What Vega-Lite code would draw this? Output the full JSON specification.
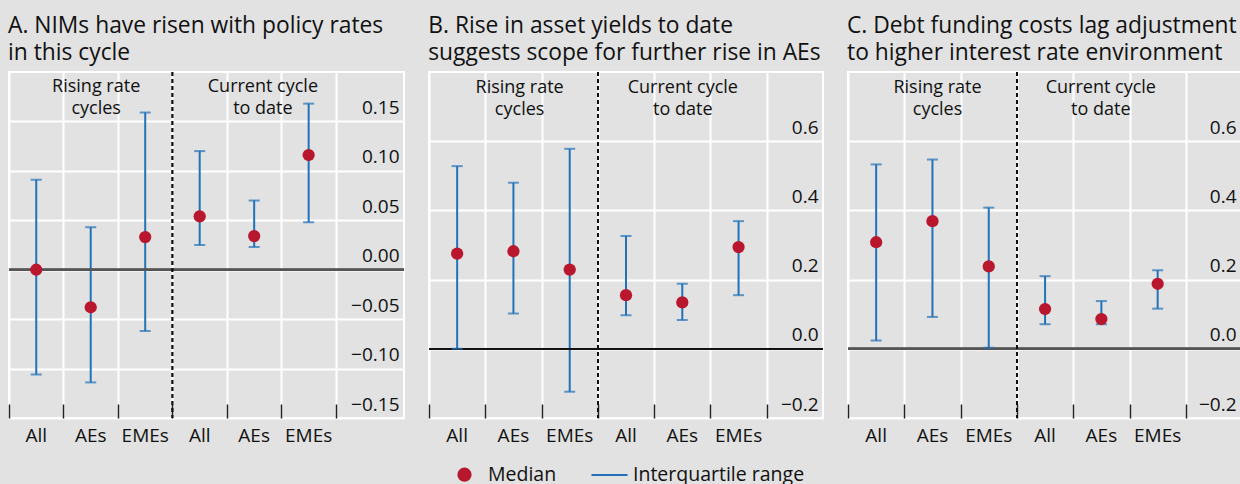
{
  "$schema": "https://vega.github.io/schema/vega-lite/v6.json",
  "background": "#e1e2e1",
  "padding": {"left": 7, "top": 13, "right": 0, "bottom": 0},
  "bounds": "flush",
  "spacing": 25,
  "config": {
    "font": "Open Sans",
    "view": {"stroke": "white", "strokeWidth": 2},
    "title": {"anchor": "start", "fontSize": 22.8, "fontWeight": "normal", "lineHeight": 27, "offset": 7, "color": "#111"},
    "axis": {"labelColor": "#111", "labelFont": "Open Sans"},
    "text": {"color": "#111"},
    "legend": {"layout": {"bottom": {"anchor": "middle"}}}
  },
  "resolve": {"scale": {"color": "shared"}},
  "hconcat": [
    {
      "width": 395,
      "height": 346,
      "title": {"text": ["A. NIMs have risen with policy rates", "in this cycle"]},
      "data": {"values": [
        {"x": 0.5, "g": "All", "med": 0.0, "lo": -0.106, "hi": 0.091},
        {"x": 1.5, "g": "AEs", "med": -0.038, "lo": -0.114, "hi": 0.043},
        {"x": 2.5, "g": "EMEs", "med": 0.033, "lo": -0.062, "hi": 0.159},
        {"x": 3.5, "g": "All", "med": 0.054, "lo": 0.025, "hi": 0.120},
        {"x": 4.5, "g": "AEs", "med": 0.034, "lo": 0.023, "hi": 0.070},
        {"x": 5.5, "g": "EMEs", "med": 0.116, "lo": 0.048, "hi": 0.168}
      ]},
      "layer": [
        {
          "mark": {"type": "rule", "strokeWidth": 2},
          "encoding": {
            "x": {"field": "x", "type": "quantitative", "scale": {"domain": [0, 7.25], "nice": false, "zero": false},
              "axis": {"values": [0, 1, 2, 3, 4, 5, 6], "grid": true, "gridColor": "white", "gridWidth": 2, "labels": false, "domain": false, "ticks": true, "tickSize": -14, "tickColor": "#222", "tickWidth": 1.5, "title": null}},
            "y": {"field": "lo", "type": "quantitative", "scale": {"domain": [-0.15, 0.2], "nice": false, "zero": false},
              "axis": {"orient": "right", "values": [-0.15, -0.1, -0.05, 0, 0.05, 0.1, 0.15], "format": ".2f", "grid": true, "gridColor": "white", "gridWidth": 2, "domain": false, "ticks": false, "tickSize": 0, "labelAlign": "right", "labelPadding": -5, "labelBaseline": "alphabetic", "labelOffset": -8, "labelFontSize": 19, "title": null}},
            "y2": {"field": "hi"},
            "color": {"datum": "Interquartile range", "type": "nominal",
              "scale": {"domain": ["Median", "Interquartile range"], "range": ["#b8172e", "#2372b9"]},
              "legend": {"title": null, "orient": "bottom", "direction": "horizontal", "labelFontSize": 19.5, "labelColor": "#111", "labelFont": "Open Sans", "labelLimit": 0, "columnPadding": 30, "offset": 8,
                "encode": {"symbols": {"update": {
                  "shape": {"signal": "datum.value === 'Median' ? 'circle' : 'stroke'"},
                  "size": {"signal": "datum.value === 'Median' ? 150 : 1300"},
                  "stroke": {"scale": "color", "field": "value"},
                  "fill": {"scale": "color", "field": "value"},
                  "strokeWidth": {"value": 2},
                  "opacity": {"value": 1}
                }}}}}
          }
        },
        {
          "mark": {"type": "rule", "color": "#555", "strokeWidth": 2},
          "encoding": {"y": {"datum": 0}}
        },
        {
          "mark": {"type": "rule", "color": "#111", "strokeWidth": 1.3, "strokeDash": [4, 3]},
          "encoding": {"x": {"datum": 3}}
        },
        {
          "mark": {"type": "tick", "orient": "horizontal", "size": 11, "thickness": 2},
          "encoding": {"x": {"field": "x", "type": "quantitative"}, "y": {"field": "lo", "type": "quantitative"}, "color": {"datum": "Interquartile range", "type": "nominal"}}
        },
        {
          "mark": {"type": "tick", "orient": "horizontal", "size": 11, "thickness": 2},
          "encoding": {"x": {"field": "x", "type": "quantitative"}, "y": {"field": "hi", "type": "quantitative"}, "color": {"datum": "Interquartile range", "type": "nominal"}}
        },
        {
          "mark": {"type": "circle", "size": 150, "opacity": 1},
          "encoding": {"x": {"field": "x", "type": "quantitative"}, "y": {"field": "med", "type": "quantitative"}, "color": {"datum": "Median", "type": "nominal"}}
        },
        {
          "mark": {"type": "text", "fontSize": 19, "dy": 18, "baseline": "middle", "align": "center"},
          "encoding": {"x": {"field": "x", "type": "quantitative"}, "y": {"datum": -0.15}, "text": {"field": "g"}}
        },
        {
          "data": {"values": [
            {"x": 1.6, "y": 0.185, "t": "Rising rate\ncycles"},
            {"x": 4.66, "y": 0.185, "t": "Current cycle\nto date"}
          ]},
          "mark": {"type": "text", "fontSize": 18, "lineBreak": "\n", "lineHeight": 22, "baseline": "middle", "align": "center"},
          "encoding": {"x": {"field": "x", "type": "quantitative"}, "y": {"field": "y", "type": "quantitative"}, "text": {"field": "t"}}
        }
      ]
    },
    {
      "width": 394,
      "height": 346,
      "title": {"text": ["B. Rise in asset yields to date", "suggests scope for further rise in AEs"]},
      "data": {"values": [
        {"x": 0.5, "g": "All", "med": 0.275, "lo": 0.0, "hi": 0.528},
        {"x": 1.5, "g": "AEs", "med": 0.282, "lo": 0.102, "hi": 0.480},
        {"x": 2.5, "g": "EMEs", "med": 0.229, "lo": -0.124, "hi": 0.578},
        {"x": 3.5, "g": "All", "med": 0.155, "lo": 0.097, "hi": 0.326},
        {"x": 4.5, "g": "AEs", "med": 0.134, "lo": 0.083, "hi": 0.188},
        {"x": 5.5, "g": "EMEs", "med": 0.294, "lo": 0.155, "hi": 0.369}
      ]},
      "layer": [
        {
          "mark": {"type": "rule", "strokeWidth": 2},
          "encoding": {
            "x": {"field": "x", "type": "quantitative", "scale": {"domain": [0, 7.0], "nice": false, "zero": false},
              "axis": {"values": [0, 1, 2, 3, 4, 5, 6], "grid": true, "gridColor": "white", "gridWidth": 2, "labels": false, "domain": false, "ticks": true, "tickSize": -14, "tickColor": "#222", "tickWidth": 1.5, "title": null}},
            "y": {"field": "lo", "type": "quantitative", "scale": {"domain": [-0.2, 0.8], "nice": false, "zero": false},
              "axis": {"orient": "right", "values": [-0.2, 0, 0.2, 0.4, 0.6], "format": ".1f", "grid": true, "gridColor": "white", "gridWidth": 2, "domain": false, "ticks": false, "tickSize": 0, "labelAlign": "right", "labelPadding": -5, "labelBaseline": "alphabetic", "labelOffset": -8, "labelFontSize": 19, "title": null}},
            "y2": {"field": "hi"},
            "color": {"datum": "Interquartile range", "type": "nominal"}
          }
        },
        {
          "mark": {"type": "rule", "color": "#111", "strokeWidth": 1.5},
          "encoding": {"y": {"datum": 0}}
        },
        {
          "mark": {"type": "rule", "color": "#111", "strokeWidth": 1.3, "strokeDash": [4, 3]},
          "encoding": {"x": {"datum": 3}}
        },
        {
          "mark": {"type": "tick", "orient": "horizontal", "size": 11, "thickness": 2},
          "encoding": {"x": {"field": "x", "type": "quantitative"}, "y": {"field": "lo", "type": "quantitative"}, "color": {"datum": "Interquartile range", "type": "nominal"}}
        },
        {
          "mark": {"type": "tick", "orient": "horizontal", "size": 11, "thickness": 2},
          "encoding": {"x": {"field": "x", "type": "quantitative"}, "y": {"field": "hi", "type": "quantitative"}, "color": {"datum": "Interquartile range", "type": "nominal"}}
        },
        {
          "mark": {"type": "circle", "size": 150, "opacity": 1},
          "encoding": {"x": {"field": "x", "type": "quantitative"}, "y": {"field": "med", "type": "quantitative"}, "color": {"datum": "Median", "type": "nominal"}}
        },
        {
          "mark": {"type": "text", "fontSize": 19, "dy": 18, "baseline": "middle", "align": "center"},
          "encoding": {"x": {"field": "x", "type": "quantitative"}, "y": {"datum": -0.2}, "text": {"field": "g"}}
        },
        {
          "data": {"values": [
            {"x": 1.61, "y": 0.753, "t": "Rising rate\ncycles"},
            {"x": 4.51, "y": 0.753, "t": "Current cycle\nto date"}
          ]},
          "mark": {"type": "text", "fontSize": 18, "lineBreak": "\n", "lineHeight": 22, "baseline": "middle", "align": "center"},
          "encoding": {"x": {"field": "x", "type": "quantitative"}, "y": {"field": "y", "type": "quantitative"}, "text": {"field": "t"}}
        }
      ]
    },
    {
      "width": 393,
      "height": 346,
      "title": {"text": ["C. Debt funding costs lag adjustment", "to higher interest rate environment"]},
      "data": {"values": [
        {"x": 0.5, "g": "All", "med": 0.308, "lo": 0.024, "hi": 0.533},
        {"x": 1.5, "g": "AEs", "med": 0.369, "lo": 0.092, "hi": 0.547},
        {"x": 2.5, "g": "EMEs", "med": 0.238, "lo": 0.003, "hi": 0.408},
        {"x": 3.5, "g": "All", "med": 0.115, "lo": 0.071, "hi": 0.210},
        {"x": 4.5, "g": "AEs", "med": 0.086, "lo": 0.071, "hi": 0.138},
        {"x": 5.5, "g": "EMEs", "med": 0.188, "lo": 0.116, "hi": 0.227}
      ]},
      "layer": [
        {
          "mark": {"type": "rule", "strokeWidth": 2},
          "encoding": {
            "x": {"field": "x", "type": "quantitative", "scale": {"domain": [0, 6.98], "nice": false, "zero": false},
              "axis": {"values": [0, 1, 2, 3, 4, 5, 6], "grid": true, "gridColor": "white", "gridWidth": 2, "labels": false, "domain": false, "ticks": true, "tickSize": -14, "tickColor": "#222", "tickWidth": 1.5, "title": null}},
            "y": {"field": "lo", "type": "quantitative", "scale": {"domain": [-0.2, 0.8], "nice": false, "zero": false},
              "axis": {"orient": "right", "values": [-0.2, 0, 0.2, 0.4, 0.6], "format": ".1f", "grid": true, "gridColor": "white", "gridWidth": 2, "domain": false, "ticks": false, "tickSize": 0, "labelAlign": "right", "labelPadding": -5, "labelBaseline": "alphabetic", "labelOffset": -8, "labelFontSize": 19, "title": null}},
            "y2": {"field": "hi"},
            "color": {"datum": "Interquartile range", "type": "nominal"}
          }
        },
        {
          "mark": {"type": "rule", "color": "#555", "strokeWidth": 2},
          "encoding": {"y": {"datum": 0}}
        },
        {
          "mark": {"type": "rule", "color": "#111", "strokeWidth": 1.3, "strokeDash": [4, 3]},
          "encoding": {"x": {"datum": 3}}
        },
        {
          "mark": {"type": "tick", "orient": "horizontal", "size": 11, "thickness": 2},
          "encoding": {"x": {"field": "x", "type": "quantitative"}, "y": {"field": "lo", "type": "quantitative"}, "color": {"datum": "Interquartile range", "type": "nominal"}}
        },
        {
          "mark": {"type": "tick", "orient": "horizontal", "size": 11, "thickness": 2},
          "encoding": {"x": {"field": "x", "type": "quantitative"}, "y": {"field": "hi", "type": "quantitative"}, "color": {"datum": "Interquartile range", "type": "nominal"}}
        },
        {
          "mark": {"type": "circle", "size": 150, "opacity": 1},
          "encoding": {"x": {"field": "x", "type": "quantitative"}, "y": {"field": "med", "type": "quantitative"}, "color": {"datum": "Median", "type": "nominal"}}
        },
        {
          "mark": {"type": "text", "fontSize": 19, "dy": 18, "baseline": "middle", "align": "center"},
          "encoding": {"x": {"field": "x", "type": "quantitative"}, "y": {"datum": -0.2}, "text": {"field": "g"}}
        },
        {
          "data": {"values": [
            {"x": 1.59, "y": 0.753, "t": "Rising rate\ncycles"},
            {"x": 4.49, "y": 0.753, "t": "Current cycle\nto date"}
          ]},
          "mark": {"type": "text", "fontSize": 18, "lineBreak": "\n", "lineHeight": 22, "baseline": "middle", "align": "center"},
          "encoding": {"x": {"field": "x", "type": "quantitative"}, "y": {"field": "y", "type": "quantitative"}, "text": {"field": "t"}}
        }
      ]
    }
  ]
}
